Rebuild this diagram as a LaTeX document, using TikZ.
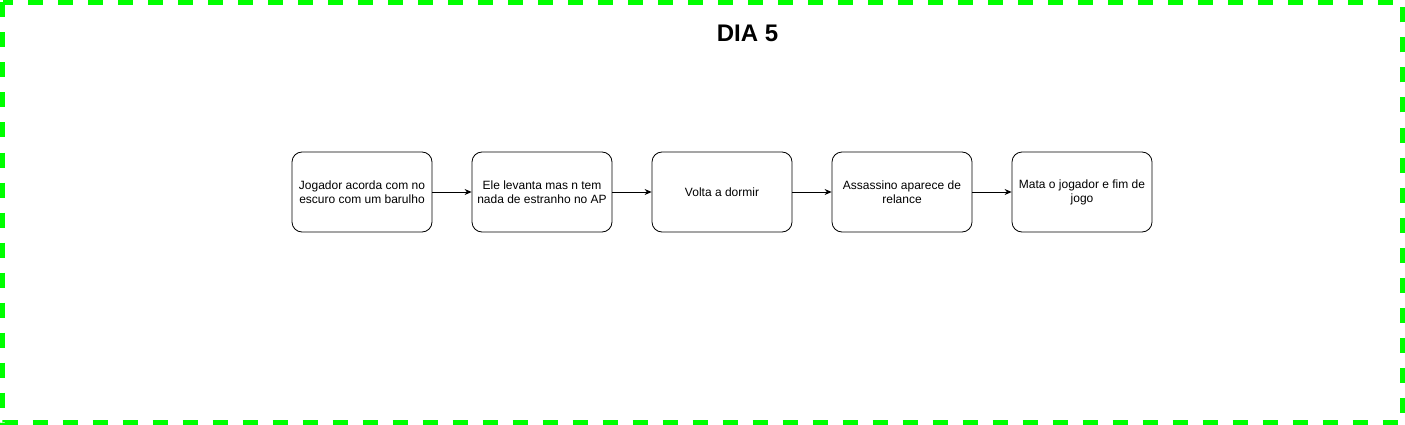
\documentclass[tikz,border=0pt]{standalone}
\usepackage{fontspec}
\setmainfont{Liberation Sans}
\usepackage{xcolor}
\definecolor{framegreen}{HTML}{00FF00}
\usetikzlibrary{arrows.meta,positioning}

\begin{document}
\begin{tikzpicture}[x=1pt,y=-1pt,
  stepbox/.style={rectangle,draw,rounded corners=10pt,line width=0.8pt,minimum width=140pt,minimum height=80pt,align=center,inner sep=0pt,font=\fontsize{12}{14}\selectfont},
  flow/.style={-{Stealth[length=7pt,width=6pt]},line width=0.8pt}]
\useasboundingbox (0,0) rectangle (1405,425);
% Dashed frame and title
\draw[framegreen,line width=5pt,dash pattern=on 15pt off 15pt] (2.5,2.5) rectangle (1402.5,422.5);
\node[font=\fontsize{24}{28}\selectfont\bfseries] (title) at (747.5,33) {DIA 5};

% Story steps
\node[stepbox] (wake) at (362,192) {Jogador acorda com no\\escuro com um barulho};
\node[stepbox] (up) at (542,192) {Ele levanta mas n tem\\nada de estranho no AP};
\node[stepbox] (sleep) at (722,192) {Volta a dormir};
\node[stepbox] (killer) at (902,192) {Assassino aparece de\\relance};
\node[stepbox] (end) at (1082,192) {Mata o jogador e fim de\\jogo};
\draw[flow] (wake) -- (up);
\draw[flow] (up) -- (sleep);
\draw[flow] (sleep) -- (killer);
\draw[flow] (killer) -- (end);
\end{tikzpicture}
\end{document}
